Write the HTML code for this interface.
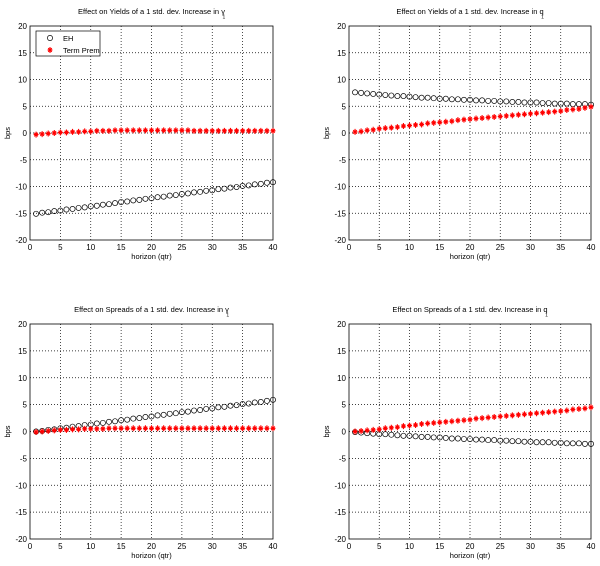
<!DOCTYPE html>
<html><head><meta charset="utf-8"><style>
html,body{margin:0;padding:0;background:#fff;}
svg{display:block;font-family:"Liberation Sans",sans-serif;}
</style></head><body>
<svg id="fig" width="600" height="566" viewBox="0 0 600 566" xmlns="http://www.w3.org/2000/svg"></svg>
<script>
const horizons = [1,2,3,4,5,6,7,8,9,10,11,12,13,14,15,16,17,18,19,20,21,22,23,24,25,26,27,28,29,30,31,32,33,34,35,36,37,38,39,40];
const xTicks = [0,5,10,15,20,25,30,35,40];
const yTicks = [-20,-15,-10,-5,0,5,10,15,20];
const tlEH = [-15.1,-14.9,-14.8,-14.6,-14.5,-14.3,-14.2,-14.0,-13.9,-13.7,-13.6,-13.4,-13.3,-13.1,-12.9,-12.8,-12.6,-12.5,-12.3,-12.2,-12.0,-11.9,-11.7,-11.6,-11.4,-11.3,-11.1,-11.0,-10.8,-10.7,-10.5,-10.4,-10.2,-10.1,-9.9,-9.8,-9.6,-9.5,-9.3,-9.2];
const tlTP = [-0.3,-0.2,-0.1,0.0,0.1,0.1,0.2,0.2,0.3,0.3,0.4,0.4,0.4,0.5,0.5,0.5,0.5,0.5,0.5,0.5,0.5,0.5,0.5,0.5,0.5,0.5,0.4,0.4,0.4,0.4,0.4,0.4,0.4,0.4,0.4,0.4,0.4,0.4,0.4,0.4];
const trEH = [7.6,7.5,7.4,7.3,7.2,7.1,7.0,6.9,6.9,6.8,6.7,6.6,6.6,6.5,6.4,6.4,6.3,6.3,6.2,6.2,6.1,6.1,6.0,6.0,5.9,5.9,5.8,5.8,5.7,5.7,5.7,5.6,5.6,5.5,5.5,5.5,5.4,5.4,5.4,5.3];
const trTP = [0.2,0.3,0.5,0.6,0.8,0.9,1.0,1.1,1.3,1.4,1.5,1.6,1.8,1.9,2.0,2.1,2.2,2.4,2.5,2.6,2.7,2.8,2.9,3.0,3.1,3.2,3.3,3.4,3.5,3.6,3.7,3.8,3.9,4.0,4.1,4.3,4.4,4.5,4.7,4.9];
const blEH = [0.0,0.1,0.3,0.4,0.6,0.7,0.9,1.0,1.2,1.3,1.5,1.6,1.8,1.9,2.1,2.2,2.4,2.5,2.7,2.8,3.0,3.1,3.3,3.4,3.6,3.7,3.9,4.0,4.2,4.3,4.5,4.6,4.8,4.9,5.1,5.2,5.4,5.5,5.7,5.9];
const blTP = [-0.1,0.0,0.1,0.2,0.3,0.3,0.4,0.4,0.5,0.5,0.5,0.5,0.6,0.6,0.6,0.6,0.6,0.6,0.6,0.6,0.6,0.6,0.6,0.6,0.6,0.6,0.6,0.6,0.6,0.6,0.6,0.6,0.6,0.6,0.6,0.6,0.6,0.6,0.6,0.6];
const brEH = [-0.1,-0.2,-0.3,-0.4,-0.5,-0.5,-0.6,-0.7,-0.8,-0.8,-0.9,-1.0,-1.0,-1.1,-1.1,-1.2,-1.3,-1.3,-1.4,-1.4,-1.5,-1.5,-1.6,-1.6,-1.7,-1.7,-1.8,-1.8,-1.9,-1.9,-2.0,-2.0,-2.0,-2.1,-2.1,-2.2,-2.2,-2.2,-2.3,-2.3];
const brTP = [0.0,0.1,0.2,0.3,0.4,0.6,0.7,0.8,1.0,1.1,1.2,1.4,1.5,1.6,1.7,1.8,1.9,2.0,2.1,2.2,2.4,2.5,2.6,2.7,2.8,2.9,3.0,3.1,3.2,3.3,3.4,3.5,3.6,3.7,3.8,3.9,4.1,4.2,4.3,4.5];

const NS = "http://www.w3.org/2000/svg";
const svg = document.getElementById('fig');
function mk(tag, attrs, parent){
  const e = document.createElementNS(NS, tag);
  for (const k in attrs) e.setAttribute(k, attrs[k]);
  (parent||svg).appendChild(e);
  return e;
}
const panels = [
  {key:'top-left', x0:30, x1:273, y0:26, y1:240, title:'Effect on Yields of a 1 std. dev. Increase in γ', eh:tlEH, tp:tlTP, legend:true},
  {key:'top-right', x0:349, x1:591, y0:26, y1:240, title:'Effect on Yields of a 1 std. dev. Increase in q', eh:trEH, tp:trTP},
  {key:'bottom-left', x0:30, x1:273, y0:324, y1:539, title:'Effect on Spreads of a 1 std. dev. Increase in γ', eh:blEH, tp:blTP},
  {key:'bottom-right', x0:349, x1:591, y0:324, y1:539, title:'Effect on Spreads of a 1 std. dev. Increase in q', eh:brEH, tp:brTP}
];
panels.forEach(p=>{
  const g = mk('g', {});
  
  
  const sx = v => p.x0 + (v - 0) / 40 * (p.x1 - p.x0);
  const sy = v => p.y1 - (v + 20) / 40 * (p.y1 - p.y0);
  xTicks.forEach(t=>{
    if (t>0 && t<40){
      const l = mk('line', {x1:sx(t), x2:sx(t), y1:p.y0, y2:p.y1, stroke:'#000', 'stroke-width':0.7, 'stroke-dasharray':'1,2'}, g);
      
      
    }
    const tx = mk('text', {x:sx(t), y:p.y1+10, 'font-size':8, 'text-anchor':'middle', fill:'#000'}, g);
    tx.textContent = t;
    
    
  });
  yTicks.forEach(t=>{
    if (t>-20 && t<20){
      const l = mk('line', {x1:p.x0, x2:p.x1, y1:sy(t), y2:sy(t), stroke:'#000', 'stroke-width':0.7, 'stroke-dasharray':'1,2'}, g);
      
      
    }
    const tx = mk('text', {x:p.x0-3, y:sy(t)+3, 'font-size':8, 'text-anchor':'end', fill:'#000'}, g);
    tx.textContent = t;
    
    
  });
  const box = mk('rect', {x:p.x0, y:p.y0, width:p.x1-p.x0, height:p.y1-p.y0, fill:'none', stroke:'#000', 'stroke-width':0.8}, g);
  
  
  const ti = mk('text', {x:(p.x0+p.x1)/2, y:p.y0-12, 'font-size':7.5, 'text-anchor':'middle', fill:'#000'}, g);
  ti.textContent = p.title;
  
  
  const tw = ti.getComputedTextLength();
  const sub = mk('text', {x:(p.x0+p.x1)/2 + tw/2 - 2.5, y:p.y0-7.5, 'font-size':5, fill:'#000'}, g);
  sub.textContent = '1';
  
  
  const xl = mk('text', {x:(p.x0+p.x1)/2, y:p.y1+19, 'font-size':7.5, 'text-anchor':'middle', fill:'#000'}, g);
  xl.textContent = 'horizon (qtr)';
  
  
  const yl = mk('text', {x:0, y:0, 'font-size':7.5, 'text-anchor':'middle', fill:'#000', transform:`translate(${p.x0-20},${(p.y0+p.y1)/2}) rotate(-90)`}, g);
  yl.textContent = 'bps';
  
  
  horizons.forEach((h,i)=>{
    const c = mk('circle', {cx:sx(h), cy:sy(p.eh[i]), r:2.6, fill:'none', stroke:'#000', 'stroke-width':0.7}, g);
    
    
  });
  horizons.forEach((h,i)=>{
    const x = sx(h), y = sy(p.tp[i]);
    const s = mk('path', {d:`M${x-2.5},${y}H${x+2.5}M${x},${y-3}V${y+3}M${x-1.8},${y-1.8}L${x+1.8},${y+1.8}M${x-1.8},${y+1.8}L${x+1.8},${y-1.8}`, stroke:'#f00', 'stroke-width':1.1, fill:'none'}, g);
    
    
  });
  if (p.legend){
    const lg = mk('g', {}, g);
    
    
    mk('rect', {x:36, y:31, width:64, height:25, fill:'#fff', stroke:'#000', 'stroke-width':0.7}, lg);
    const c = mk('circle', {cx:50, cy:38, r:2.6, fill:'none', stroke:'#000', 'stroke-width':0.7}, lg);
    
    
    const t1 = mk('text', {x:63, y:41, 'font-size':7.5, fill:'#000'}, lg);
    t1.textContent = 'EH';
    
    
    const x=50,y=50;
    const s = mk('path', {d:`M${x-2.5},${y}H${x+2.5}M${x},${y-3}V${y+3}M${x-1.8},${y-1.8}L${x+1.8},${y+1.8}M${x-1.8},${y+1.8}L${x+1.8},${y-1.8}`, stroke:'#f00', 'stroke-width':1.1}, lg);
    
    
    const t2 = mk('text', {x:63, y:53, 'font-size':7.5, fill:'#000'}, lg);
    t2.textContent = 'Term Prem';
    
    
  }
});
</script>
</body></html>
